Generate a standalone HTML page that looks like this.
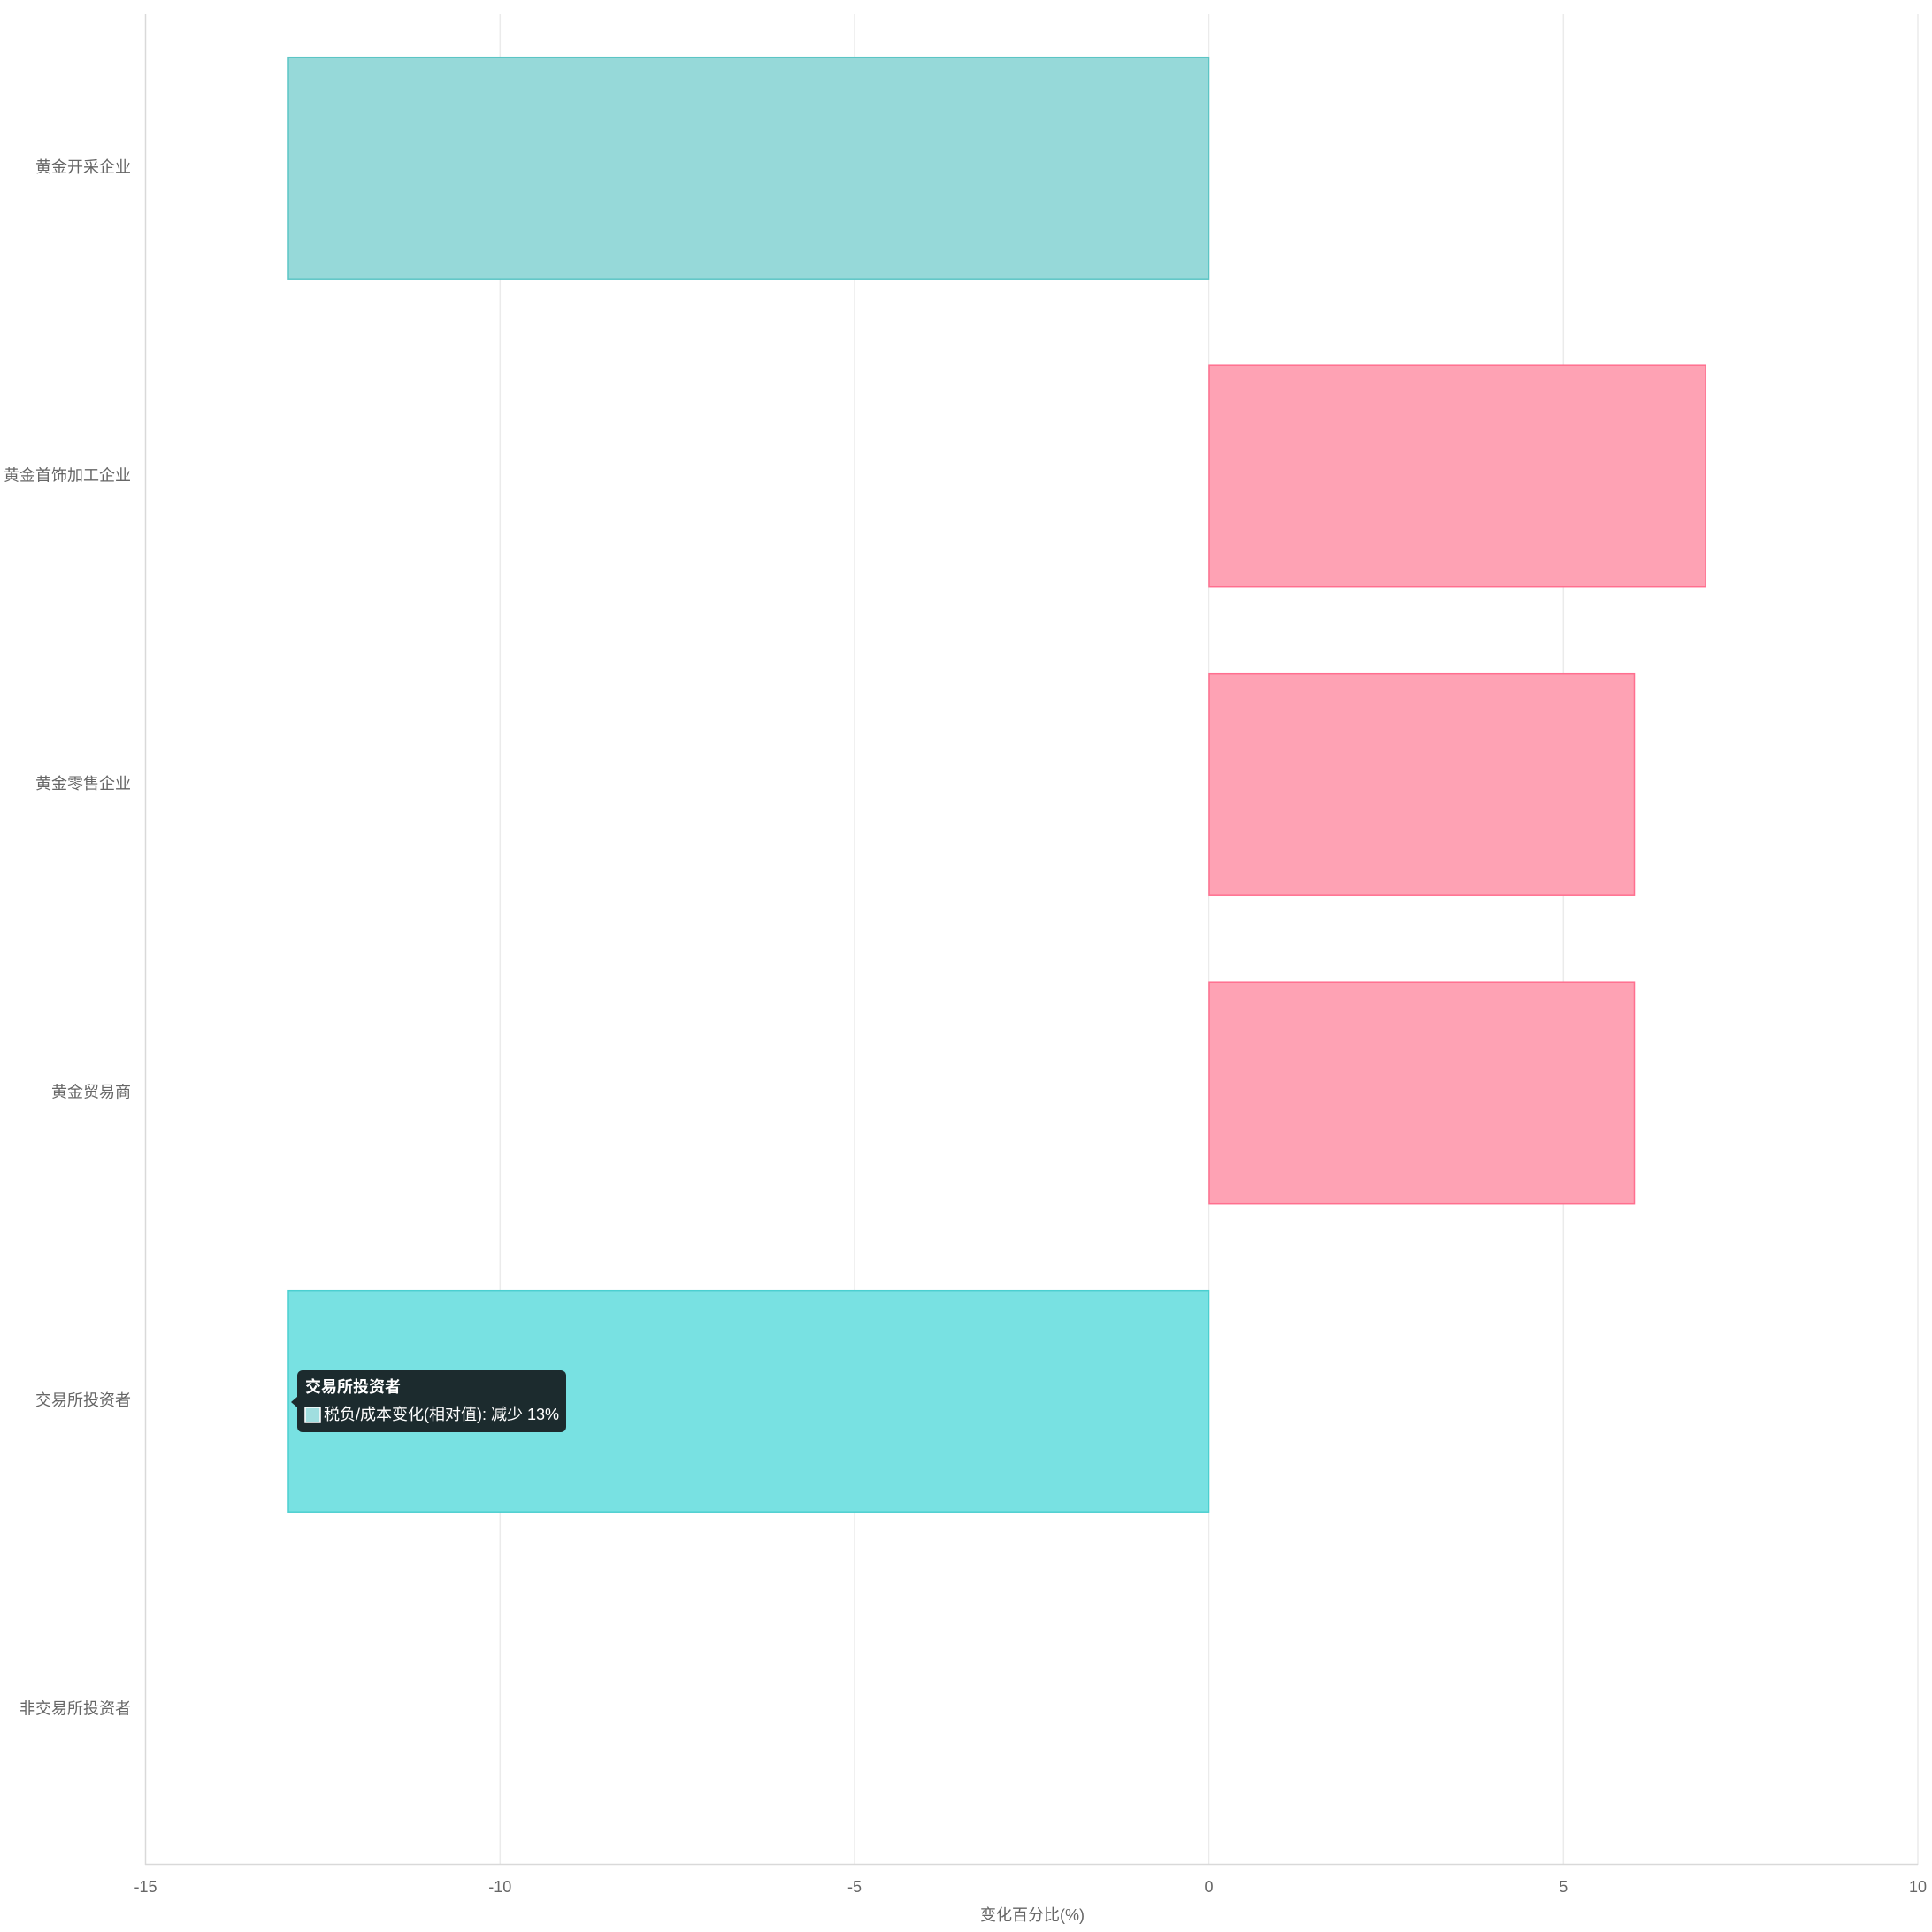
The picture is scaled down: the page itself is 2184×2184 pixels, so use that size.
<!DOCTYPE html><html><head><meta charset="utf-8"><style>body{margin:0;background:#fff}svg{display:block}text{font-family:"Liberation Sans","Noto Sans CJK SC",sans-serif}</style></head><body>
<svg width="2184" height="2184" xmlns="http://www.w3.org/2000/svg">
<g stroke="#ebebeb" stroke-width="1.5">
<line x1="565.3" y1="16" x2="565.3" y2="2108"/><line x1="966" y1="16" x2="966" y2="2108"/><line x1="1366.5" y1="16" x2="1366.5" y2="2108"/><line x1="1767.3" y1="16" x2="1767.3" y2="2108"/><line x1="2168" y1="16" x2="2168" y2="2108"/>
</g>
<line x1="164.5" y1="16" x2="164.5" y2="2108" stroke="#d9d9d9" stroke-width="1.5"/>
<line x1="164" y1="2107.5" x2="2168" y2="2107.5" stroke="#d9d9d9" stroke-width="1.5"/>
<rect x="326" y="64.7" width="1040.5" height="250.5" fill="#96d9d9" stroke="#5cc5c5" stroke-width="1.5"/>
<rect x="1367" y="413.2" width="561" height="250.5" fill="#fea2b4" stroke="#ff6f8f" stroke-width="1.5"/>
<rect x="1367" y="761.7" width="480.5" height="250.5" fill="#fea2b4" stroke="#ff6f8f" stroke-width="1.5"/>
<rect x="1367" y="1110.2" width="480.5" height="250.5" fill="#fea2b4" stroke="#ff6f8f" stroke-width="1.5"/>
<rect x="326" y="1458.7" width="1040.5" height="250.5" fill="#78e1e2" stroke="#4bcfd0" stroke-width="1.5"/>
<g font-size="18" fill="#666" text-anchor="end">
<text x="148" y="195">黄金开采企业</text><text x="148" y="543.5">黄金首饰加工企业</text><text x="148" y="892">黄金零售企业</text><text x="148" y="1240.5">黄金贸易商</text><text x="148" y="1589">交易所投资者</text><text x="148" y="1937.5">非交易所投资者</text>
</g>
<g font-size="18" fill="#666" text-anchor="middle">
<text x="164.5" y="2139">-15</text><text x="565.3" y="2139">-10</text><text x="966" y="2139">-5</text><text x="1366.5" y="2139">0</text><text x="1767.3" y="2139">5</text><text x="2168" y="2139">10</text>
<text x="1167" y="2171">变化百分比(%)</text>
</g>
<path d="M336,1579 L329,1585 L336,1591 Z" fill="#1c2b2e"/>
<rect x="336" y="1549" width="304" height="70" rx="6" fill="#1c2b2e"/>
<text x="345" y="1574" font-size="18" font-weight="bold" fill="#fff">交易所投资者</text>
<rect x="345" y="1591" width="17" height="17" fill="#a0dedf" stroke="#fff" stroke-width="1.5"/>
<text x="366" y="1605" font-size="18" fill="#fff">税负/成本变化(相对值): 减少 13%</text>
</svg></body></html>
